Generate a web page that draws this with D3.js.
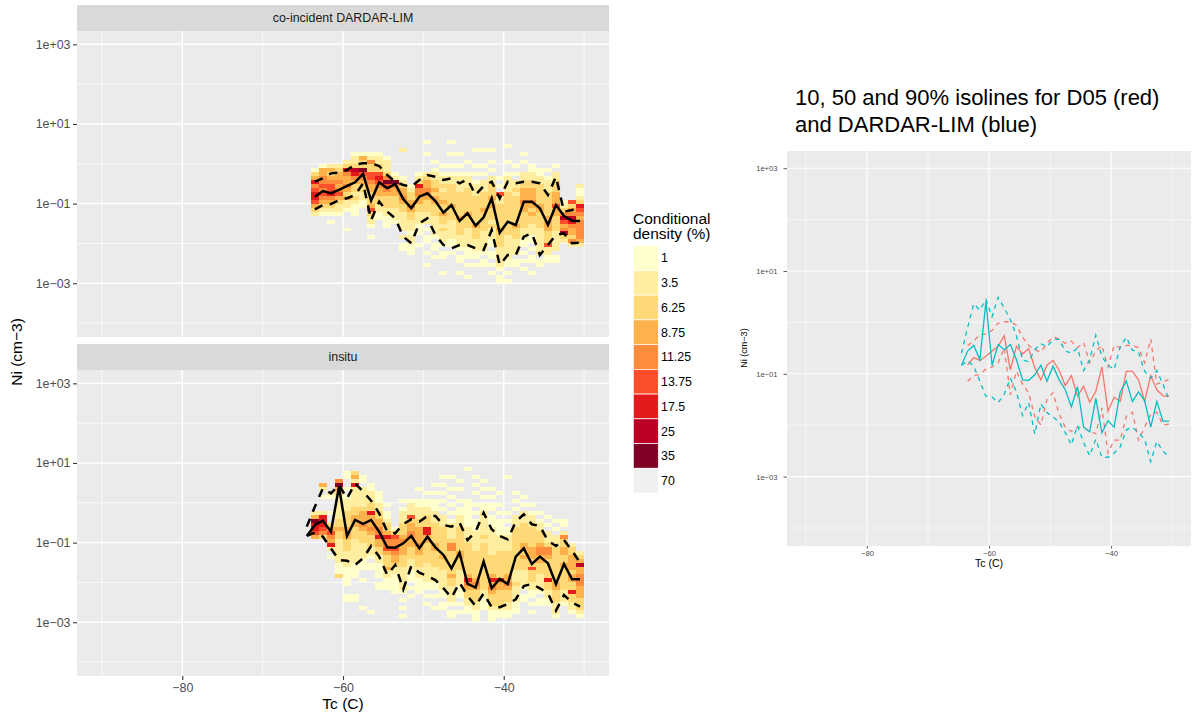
<!DOCTYPE html>
<html>
<head>
<meta charset="utf-8">
<script src="https://cdn.jsdelivr.net/npm/d3@7"></script>
<style>
  body { margin: 0; background: #fff; }
  svg { display: block; }
  text { font-family: "Liberation Sans", Arial, Helvetica, sans-serif; }
</style>
</head>
<body>
<svg id="chart" width="1198" height="717"></svg>
<script>
// ---- Temperature bin centres (C) ----
const tempBins = [-64.5,-63.5,-62.5,-61.5,-60.5,-59.5,-58.5,-57.5,-56.5,-55.5,-54.5,-53.5,-52.5,-51.5,-50.5,-49.5,-48.5,-47.5,-46.5,-45.5,-44.5,-43.5,-42.5,-41.5,-40.5,-39.5,-38.5,-37.5,-36.5,-35.5,-34.5,-33.5,-32.5,-31.5,-30.5];

// ---- Ni quantiles (cm-3) per temperature bin: co-incident DARDAR-LIM (bins -63.5 .. -30.5) ----
const coincidentP50 = [0.149,0.207,0.182,0.220,0.277,0.343,0.555,0.119,0.343,0.242,0.310,0.131,0.0762,0.149,0.182,0.116,0.0592,0.0923,0.0366,0.0571,0.0279,0.0454,0.136,0.0186,0.0352,0.0290,0.112,0.112,0.0762,0.0290,0.0923,0.0489,0.0373,0.0366];
const coincidentP90 = [0.356,0.432,0.575,0.598,0.698,0.968,1.03,1.03,0.879,0.522,0.356,0.293,0.266,0.392,0.522,0.474,0.392,0.432,0.323,0.406,0.164,0.277,0.356,0.136,0.356,0.323,0.356,0.356,0.323,0.164,0.474,0.0628,0.0692,0.0791];
const coincidentP10 = [0.0718,0.0923,0.0977,0.123,0.136,0.164,0.323,0.0388,0.112,0.0628,0.0427,0.0148,0.0101,0.0320,0.0427,0.0163,0.00914,0.00753,0.00914,0.00914,0.00753,0.00684,0.0217,0.00288,0.00513,0.00513,0.0148,0.0179,0.00513,0.00914,0.0163,0.0179,0.0101,0.0105];

// ---- Ni quantiles (cm-3) per temperature bin: insitu (bins -64.5 .. -30.5) ----
const insituP50 = [0.147,0.277,0.356,0.188,2.54,0.147,0.370,0.294,0.370,0.188,0.0762,0.0748,0.0959,0.147,0.0719,0.141,0.0762,0.0490,0.0226,0.0560,0.00914,0.00740,0.0333,0.00713,0.0122,0.00914,0.0445,0.0719,0.0291,0.0445,0.0302,0.00914,0.0291,0.0120,0.0120];
const insituP90 = [0.252,0.800,2.31,1.73,2.80,1.29,3.08,1.90,1.13,0.545,0.188,0.171,0.294,0.385,0.336,0.466,0.466,0.277,0.252,0.317,0.116,0.188,0.565,0.216,0.147,0.121,0.336,0.513,0.288,0.261,0.112,0.0822,0.116,0.0628,0.0314];
const insituP10 = [0.147,0.178,0.141,0.0719,0.0366,0.0352,0.0274,0.0404,0.0822,0.0445,0.0154,0.0274,0.00671,0.0259,0.0176,0.0145,0.0115,0.00713,0.00415,0.00989,0.00457,0.00256,0.00533,0.00238,0.00238,0.00288,0.00378,0.00815,0.00914,0.00713,0.00533,0.00196,0.00484,0.00311,0.00247];

// ---- Conditional density classes, one column per temperature bin (-63.5 .. -30.5) ----
// [first log-bin row, class codes]; row 0 is log10(Ni) in [0.9, 1.0], each row 0.1 decade lower.
// Codes 1..9 index the density classes, '.' is an empty cell.
const coincidentCells = [
  [11, "134756776432"],
  [10, "1445565654321"],
  [10, "2434566754321.1"],
  [10, "2344545643221"],
  [9, "2375445434221....1"],
  [7, "1223875433232111"],
  [7, "14339654332211"],
  [7, "1253366544333463221..1"],
  [7, "12233676544332211"],
  [8, "122235965433322111"],
  [12, "1295443332221"],
  [6, "2......12344543322222.2.11"],
  [15, "123345433222122111"],
  [12, "1237554433222111..1"],
  [4, "1..1....2344554333222.1.11..1..1"],
  [9, "1.122334344333222221.11.1"],
  [10, "1.1223233433433232221.11...1"],
  [4, "1..1..1.1223333343332222211.1."],
  [7, "1..1.12222333333433332221.11..1"],
  [9, "1..1222333333433322222111.1..1"],
  [6, "1...1.1.12223333333433322211.1."],
  [6, "1...1.1.2223333433333222221.11"],
  [6, "1..1.1.223334343332322211.11.1.1"],
  [13, "1.1.62233333343333222221.11"],
  [5, "1...1..122223333333333322222211.1.1"],
  [10, "1.1.2232333333343332222.11"],
  [7, "1.1..2233444544333322211.1.1.1"],
  [10, "11223344454343322211.1.11..1"],
  [11, "1122333334433332222222.11"],
  [11, "1.1222333333444433362211"],
  [10, "1.22333444644333322222.11"],
  [19, "12358645832"],
  [19, "634587544352"],
  [15, "2112376545555542"]
];
const insituCells = [
  [12, "2497764"],
  [5, "42.1...2777653"],
  [7, "21...1..3465472.1"],
  [4, "5943222222334332222221113"],
  [2, "11..1.12223333444333222211111..11"],
  [2, "342722222334443332222221111....11"],
  [3, "11.222223444543332222111..1......1"],
  [5, "1122233744454333221.11..........1"],
  [7, "1112233445574433221111.11"],
  [10, "1.11233475564333422111"],
  [16, "13655654432211111"],
  [9, "1.1222333454443332222221.1.1.1"],
  [9, "122263445544333222111.1.1"],
  [6, "1..112223344445443332221111"],
  [7, "1.11223337744333332222211.1.1"],
  [5, "1.1.11122233333443333222211.1..1"],
  [3, "1.1.1.1.1.222333333343332222211.11"],
  [3, "1..1.1.1.1.1222235533333343322221.11"],
  [4, "1.1..1.11222333333443332222111.1.1"],
  [1, "1.......11111112222333333334754332211"],
  [3, "1.1.1..1.1.11122222333333345433322111"],
  [4, "1.1.1.112222223233333333333322111"],
  [6, "1.1.11.111222222233333474543332111"],
  [7, "1..1.1.1111222233333337443333211"],
  [3, "1........1.1.11222233333344543332211"],
  [7, "1.1.1.2223333333333322232222111"],
  [8, "1.1.22233333443433322221.11"],
  [10, "1.1222333334443363332211.1.1"],
  [12, "1.1223334554433322221.11"],
  [13, "1.1.2223554333337332211"],
  [14, "1.1.222333333333443332221"],
  [14, "11.2533443343333332221"],
  [20, "233444434433733221"],
  [22, "23484455544433321"]
];

// ---- Legend, ticks, facet names ----
const densityLabels = ["1", "3.5", "6.25", "8.75", "11.25", "13.75", "17.5", "25", "35", "70"];
const yTickValues = [1e3, 1e1, 1e-1, 1e-3];
const yTickLabels = ["1e+03", "1e+01", "1e\u221201", "1e\u221203"];
const yMinorValues = [1e2, 1e0, 1e-2, 1e-4];
const xTickValues = [-80, -60, -40];
const xTickLabels = ["\u221280", "\u221260", "\u221240"];
const xMinorValues = [-90, -70, -50, -30];
const facetNames = ["co-incident DARDAR-LIM", "insitu"];

// ---- Styling ----
const densityColors = ["#ffffcc", "#ffeda0", "#fed976", "#feb24c", "#fd8d3c", "#fc4e2a", "#e31a1c", "#bd0026", "#800026", "#f0f0f0"];
const ROW_TOP_LOG = 1.0, ROW_STEP = 0.1;
const X_DOMAIN = [-93.1, -26.9];
const Y_DOMAIN = [Math.pow(10, -4.35), Math.pow(10, 3.335)];
const RED = "#F8766D", BLUE = "#00BFC4";

const svg = d3.select("#chart");
svg.append("rect").attr("width", 1198).attr("height", 717).attr("fill", "#fff");

function drawBackground(g, xs, ys, majorW, minorW) {
  const [x0, x1] = xs.range();
  const [yb, yt] = ys.range();
  g.append("rect").attr("x", x0).attr("y", yt).attr("width", x1 - x0).attr("height", yb - yt).attr("fill", "#ebebeb");
  g.selectAll(null).data(yMinorValues).join("line")
    .attr("x1", x0).attr("x2", x1).attr("y1", d => ys(d)).attr("y2", d => ys(d))
    .attr("stroke", "#fff").attr("stroke-width", minorW);
  g.selectAll(null).data(xMinorValues).join("line")
    .attr("y1", yt).attr("y2", yb).attr("x1", d => xs(d)).attr("x2", d => xs(d))
    .attr("stroke", "#fff").attr("stroke-width", minorW);
  g.selectAll(null).data(yTickValues).join("line")
    .attr("x1", x0).attr("x2", x1).attr("y1", d => ys(d)).attr("y2", d => ys(d))
    .attr("stroke", "#fff").attr("stroke-width", majorW);
  g.selectAll(null).data(xTickValues).join("line")
    .attr("y1", yt).attr("y2", yb).attr("x1", d => xs(d)).attr("x2", d => xs(d))
    .attr("stroke", "#fff").attr("stroke-width", majorW);
}

function drawTiles(g, xs, ys, cols, temps) {
  const cells = [];
  cols.forEach(([start, codes], c) => {
    for (let k = 0; k < codes.length; k++) {
      const ch = codes[k];
      if (ch === ".") continue;
      const r = start + k;
      cells.push({
        t: temps[c],
        hi: Math.pow(10, ROW_TOP_LOG - ROW_STEP * r),
        lo: Math.pow(10, ROW_TOP_LOG - ROW_STEP * (r + 1)),
        cls: +ch
      });
    }
  });
  g.selectAll(null).data(cells).join("rect")
    .attr("x", d => xs(d.t - 0.5))
    .attr("width", d => xs(d.t + 0.5) - xs(d.t - 0.5))
    .attr("y", d => ys(d.hi))
    .attr("height", d => ys(d.lo) - ys(d.hi))
    .attr("fill", d => densityColors[d.cls - 1])
    .attr("shape-rendering", "crispEdges");
}

function drawQuantiles(g, xs, ys, temps, p50, p90, p10, color, width, dash) {
  const line = d3.line().x((d, i) => xs(temps[i])).y(d => ys(d));
  [p90, p10].forEach(series => {
    g.append("path").attr("d", line(series)).attr("fill", "none")
      .attr("stroke", color).attr("stroke-width", width).attr("stroke-dasharray", dash);
  });
  g.append("path").attr("d", line(p50)).attr("fill", "none")
    .attr("stroke", color).attr("stroke-width", width);
}

function styleAxis(a, size, tickW) {
  a.select(".domain").remove();
  a.selectAll(".tick line").attr("stroke", "#333333").attr("stroke-width", tickW);
  a.selectAll(".tick text").attr("fill", "#4d4d4d").style("font-size", size + "px")
    .style("font-family", '"Liberation Sans", Arial, Helvetica, sans-serif');
}

// ================= Left: faceted conditional density =================
const xLeft = d3.scaleLinear().domain(X_DOMAIN).range([77, 609]);
const facets = [
  { top: 31, bottom: 337, strip: 5, cells: coincidentCells, temps: tempBins.slice(1),
    p50: coincidentP50, p90: coincidentP90, p10: coincidentP10, xAxis: false },
  { top: 370, bottom: 676, strip: 344, cells: insituCells, temps: tempBins,
    p50: insituP50, p90: insituP90, p10: insituP10, xAxis: true }
];

facets.forEach((f, i) => {
  const ys = d3.scaleLog().domain(Y_DOMAIN).range([f.bottom, f.top]);
  const g = svg.append("g");
  // strip
  g.append("rect").attr("x", 77).attr("y", f.strip).attr("width", 532).attr("height", f.top - f.strip).attr("fill", "#d9d9d9");
  g.append("text").attr("x", 343).attr("y", (f.strip + f.top) / 2 + 4.3)
    .attr("text-anchor", "middle").attr("fill", "#1a1a1a").style("font-size", "12.4px").text(facetNames[i]);
  drawBackground(g, xLeft, ys, 1.5, 0.75);
  drawTiles(g, xLeft, ys, f.cells, f.temps.slice(f.temps.length - f.cells.length));
  drawQuantiles(g, xLeft, ys, f.temps, f.p50, f.p90, f.p10, "#000", 2.5, "8.5,7.5");
  const ya = g.append("g").attr("transform", "translate(77,0)")
    .call(d3.axisLeft(ys).tickValues(yTickValues).tickFormat((d, k) => yTickLabels[k]).tickSize(3.9).tickPadding(2.6));
  styleAxis(ya, 12.4, 1.1);
  if (f.xAxis) {
    const xa = g.append("g").attr("transform", `translate(0,${f.bottom})`)
      .call(d3.axisBottom(xLeft).tickValues(xTickValues).tickFormat((d, k) => xTickLabels[k]).tickSize(3.9).tickPadding(3.1));
    styleAxis(xa, 12.4, 1.1);
  }
});

svg.append("text").attr("transform", "translate(22,352) rotate(-90)").attr("text-anchor", "middle")
  .attr("fill", "#000").style("font-size", "15.5px").text("Ni (cm\u22123)");
svg.append("text").attr("x", 343).attr("y", 709).attr("text-anchor", "middle")
  .attr("fill", "#000").style("font-size", "15.5px").text("Tc (C)");

// legend
const legend = svg.append("g");
legend.append("text").attr("x", 633).attr("y", 224).attr("fill", "#000").style("font-size", "15.5px").text("Conditional");
legend.append("text").attr("x", 633).attr("y", 239).attr("fill", "#000").style("font-size", "15.5px").text("density (%)");
const keyY = d3.scaleBand().domain(densityLabels).range([245.7, 493]).padding(0);
legend.selectAll(null).data(densityLabels).join("rect")
  .attr("x", 633.3).attr("y", d => keyY(d)).attr("width", 25).attr("height", keyY.bandwidth())
  .attr("fill", (d, k) => densityColors[k]).attr("stroke", "#fff").attr("stroke-width", 0.7);
legend.selectAll(null).data(densityLabels).join("text")
  .attr("x", 661).attr("y", d => keyY(d) + keyY.bandwidth() / 2 + 4.4)
  .attr("fill", "#000").style("font-size", "12.4px").text(d => d);

// ================= Right: isoline comparison =================
const xRight = d3.scaleLinear().domain(X_DOMAIN).range([787, 1191]);
const yRight = d3.scaleLog().domain(Y_DOMAIN).range([546, 151]);
const gr = svg.append("g");
drawBackground(gr, xRight, yRight, 1.1, 0.55);
drawQuantiles(gr, xRight, yRight, tempBins.slice(1), coincidentP50, coincidentP90, coincidentP10, RED, 1.3, "4.5,4.5");
drawQuantiles(gr, xRight, yRight, tempBins, insituP50, insituP90, insituP10, BLUE, 1.3, "4.5,4.5");
const rya = gr.append("g").attr("transform", "translate(787,0)")
  .call(d3.axisLeft(yRight).tickValues(yTickValues).tickFormat((d, k) => yTickLabels[k]).tickSize(3.5).tickPadding(6));
styleAxis(rya, 7.6, 0.8);
const rxa = gr.append("g").attr("transform", "translate(0,546)")
  .call(d3.axisBottom(xRight).tickValues(xTickValues).tickFormat((d, k) => xTickLabels[k]).tickSize(2.5).tickPadding(2.2));
styleAxis(rxa, 7.6, 0.8);
gr.append("text").attr("x", 989).attr("y", 567).attr("text-anchor", "middle")
  .attr("fill", "#000").style("font-size", "10.5px").text("Tc (C)");
gr.append("text").attr("transform", "translate(747,348) rotate(-90)").attr("text-anchor", "middle")
  .attr("fill", "#000").style("font-size", "9px").text("Ni (cm\u22123)");
const title = gr.append("text").attr("fill", "#000").style("font-size", "22px");
title.append("tspan").attr("x", 795).attr("y", 105).text("10, 50 and 90% isolines for D05 (red)");
title.append("tspan").attr("x", 795).attr("y", 131.5).text("and DARDAR-LIM (blue)");
</script>
</body>
</html>
